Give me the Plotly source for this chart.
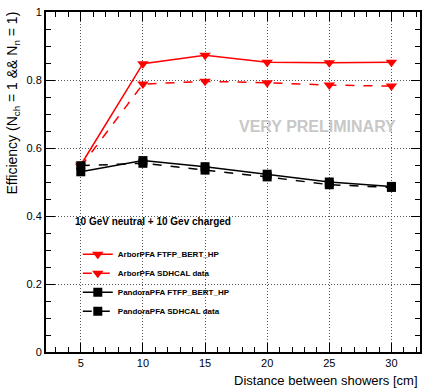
import plotly.graph_objects as go

distance = [5, 10, 15, 20, 25, 30]
arbor_ftfp = [0.550, 0.848, 0.873, 0.852, 0.851, 0.852]
arbor_data = [0.545, 0.788, 0.796, 0.792, 0.785, 0.782]
pandora_ftfp = [0.530, 0.563, 0.545, 0.523, 0.500, 0.487]
pandora_data = [0.548, 0.555, 0.535, 0.515, 0.492, 0.484]

series = [
    ("ArborPFA FTFP_BERT_HP", arbor_ftfp, "#ff0000", "solid", "triangle-down", 10),
    ("ArborPFA SDHCAL data", arbor_data, "#ff0000", "dash", "triangle-down", 10),
    ("PandoraPFA FTFP_BERT_HP", pandora_ftfp, "#000000", "solid", "square", 9),
    ("PandoraPFA SDHCAL data", pandora_data, "#000000", "dash", "square", 9),
]

fig = go.Figure()
for name, vals, col, dash, sym, size in series:
    fig.add_trace(go.Scatter(
        x=distance, y=vals, name="<b>" + name + "</b>", mode="lines+markers",
        line=dict(color=col, width=1.5, dash=dash),
        marker=dict(color=col, symbol=sym, size=size),
    ))

axis_common = dict(
    showline=True, linecolor="black", linewidth=2, mirror="allticks",
    ticks="inside", ticklen=9, tickcolor="black", tickwidth=1,
    showgrid=True, gridcolor="#555555", griddash="1px,2px", gridwidth=1,
    zeroline=False,
    tickfont=dict(family="Liberation Sans, Arial", size=11, color="black"),
)

fig.update_xaxes(range=[2.2, 32.3], tickvals=[5, 10, 15, 20, 25, 30],
                 minor=dict(ticks="inside", dtick=1, ticklen=5, tickcolor="black", showgrid=False),
                 **axis_common)
fig.update_yaxes(range=[0, 1], tickvals=[0, 0.2, 0.4, 0.6, 0.8, 1],
                 minor=dict(ticks="inside", dtick=0.05, ticklen=5, tickcolor="black", showgrid=False),
                 **axis_common)

fig.add_annotation(text="Efficiency (N<sub>ch</sub> = 1 && N<sub>n</sub> = 1)",
                   xref="paper", yref="paper", x=-0.088, y=1.006, textangle=-90,
                   xanchor="center", yanchor="top", showarrow=False,
                   font=dict(family="Liberation Sans, Arial", size=14, color="black"))
fig.add_annotation(text="Distance between showers [cm]",
                   xref="paper", yref="paper", x=1.0, y=-0.056,
                   xanchor="right", yanchor="top", showarrow=False,
                   font=dict(family="Liberation Sans, Arial", size=13, color="black"))
fig.add_annotation(text="<b>VERY PRELIMINARY</b>", xref="x", yref="y",
                   x=30.5, y=0.664, xanchor="right", yanchor="middle", showarrow=False,
                   font=dict(family="Liberation Sans, Arial", size=16, color="#c8c8c8"))
fig.add_annotation(text="<b>10 GeV neutral + 10 Gev charged</b>", xref="x", yref="y",
                   x=4.4, y=0.385, xanchor="left", yanchor="middle", showarrow=False,
                   font=dict(family="Liberation Sans, Arial", size=10, color="black"))

fig.update_layout(
    width=428, height=388,
    margin=dict(l=46, r=6, t=7, b=36),
    plot_bgcolor="white", paper_bgcolor="white",
    legend=dict(x=0.085, y=0.33, xanchor="left", yanchor="top",
                bgcolor="rgba(0,0,0,0)", itemwidth=30,
                font=dict(family="Liberation Sans, Arial", size=8, color="black")),
)

fig.write_html("out.html")
